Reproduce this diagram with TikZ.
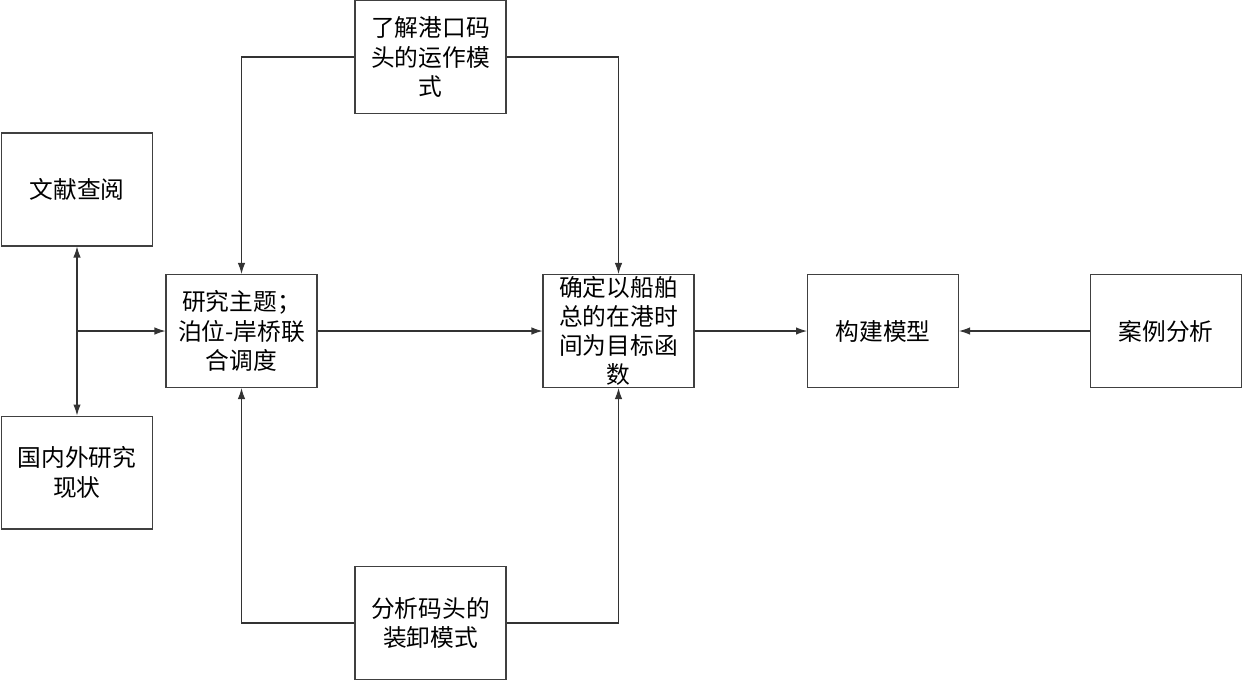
\documentclass[tikz,border=0pt]{standalone}
\usepackage{fontspec}
\usepackage{tikz}
\usetikzlibrary{arrows.meta}
\setmainfont{Noto Sans CJK SC}

\begin{document}
\begin{tikzpicture}[x=0.02cm, y=-0.02cm,
  box/.style={draw=black!75, line width=0.6pt, minimum width=3.02cm, minimum height=2.26cm, inner sep=0pt, align=center, font=\fontsize{13.5}{16.6}\selectfont},
  link/.style={draw=black!80, line width=0.6pt, -{Latex[length=2.2mm,width=1.5mm]}}]
\useasboundingbox (0,0) rectangle (1243,681);

\node[box] (wx) at (77,189.5) {文献查阅};
\node[box] (gn) at (77,472.5) {国内外研究\\现状};
\node[box] (zt) at (241.5,331) {研究主题；\\泊位-岸桥联\\合调度};
\node[box] (lj) at (430.5,57) {了解港口码\\头的运作模\\式};
\node[box] (fx) at (430.5,623) {分析码头的\\装卸模式};
\node[box] (qd) at (618.5,331) {确定以船舶\\总的在港时\\间为目标函\\数};
\node[box] (gj) at (883,331) {构建模型};
\node[box] (al) at (1166,331) {案例分析};
\coordinate (jd) at (77,331);

\draw[link, {Latex[length=2.2mm,width=1.5mm]}-{Latex[length=2.2mm,width=1.5mm]}] (wx.south) -- (gn.north);
\draw[link] (jd) -- (zt.west);
\draw[link] (lj.west) -| (zt.north);
\draw[link] (lj.east) -| (qd.north);
\draw[link] (fx.west) -| (zt.south);
\draw[link] (fx.east) -| (qd.south);
\draw[link] (zt.east) -- (qd.west);
\draw[link] (qd.east) -- (gj.west);
\draw[link] (al.west) -- (gj.east);
\end{tikzpicture}
\end{document}
